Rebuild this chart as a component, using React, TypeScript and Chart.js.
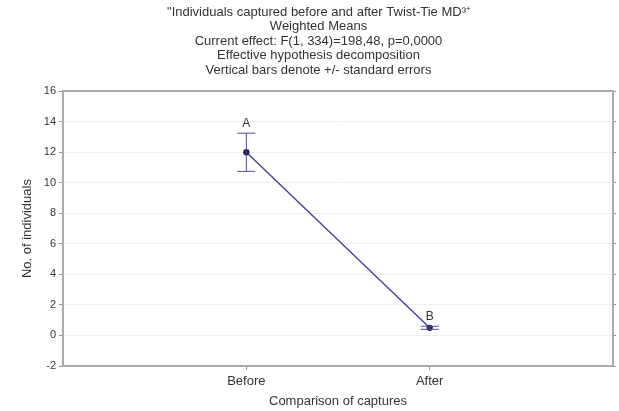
import React, { useEffect, useRef } from 'react';
import { Chart, registerables } from 'chart.js';

Chart.register(...registerables);

const titleLines = [
  '"Individuals captured before and after Twist-Tie MD³⁺',
  'Weighted Means',
  'Current effect: F(1, 334)=198,48, p=0,0000',
  'Effective hypothesis decomposition',
  'Vertical bars denote +/- standard errors',
];
const categories = ['Before', 'After'];
const means = [12.0, 0.5];
const stdErrors = [1.25, 0.1];
const groupLetters = ['A', 'B'];
const yMin = -2;
const yMax = 16;
const yStep = 2;
const xAxisTitle = 'Comparison of captures';
const yAxisTitle = 'No. of individuals';

const FONT = "'Liberation Sans', Arial, sans-serif";
const TEXT = '#333333';
const FRAME = '#ababab';

const errorBarPlugin = {
  id: 'errorBars',
  afterDatasetsDraw(chart: any) {
    const { ctx, scales } = chart;
    const x = scales.x;
    const y = scales.y;
    ctx.save();
    means.forEach((m, i) => {
      const px = x.getPixelForValue(i + 1);
      const top = y.getPixelForValue(m + stdErrors[i]);
      const bot = y.getPixelForValue(m - stdErrors[i]);
      ctx.strokeStyle = '#4b4b95';
      ctx.lineWidth = 1;
      ctx.beginPath();
      ctx.moveTo(px, top);
      ctx.lineTo(px, bot);
      ctx.moveTo(px - 9, top);
      ctx.lineTo(px + 9, top);
      ctx.moveTo(px - 9, bot);
      ctx.lineTo(px + 9, bot);
      ctx.stroke();
      ctx.fillStyle = TEXT;
      ctx.font = `12px ${FONT}`;
      ctx.textAlign = 'center';
      ctx.textBaseline = 'alphabetic';
      ctx.fillText(groupLetters[i], px, top - 6);
    });
    ctx.restore();
  },
};

export default function App() {
  const ref = useRef<HTMLCanvasElement | null>(null);

  useEffect(() => {
    if (!ref.current) return;
    const chart = new Chart(ref.current, {
      type: 'line',
      data: {
        datasets: [
          {
            data: means.map((m, i) => ({ x: i + 1, y: m })),
            borderColor: '#3b3ba3',
            borderWidth: 1.3,
            pointRadius: 2.5,
            pointBackgroundColor: '#1c1c5c',
            pointBorderColor: '#1c1c5c',
            fill: false,
            tension: 0,
          },
        ],
      },
      options: {
        responsive: false,
        animation: false,
        layout: { padding: { left: 18, top: 0, right: 0, bottom: 0 } },
        plugins: {
          legend: { display: false },
          tooltip: { enabled: false },
          title: {
            display: true,
            text: titleLines,
            color: TEXT,
            font: { family: FONT, size: 13, weight: 'normal', lineHeight: 1.11 },
            padding: { top: 5, bottom: 14 },
          },
        },
        scales: {
          x: {
            type: 'linear',
            position: 'bottom',
            min: 0,
            max: 3,
            afterBuildTicks: (axis: any) => {
              axis.ticks = categories.map((_, i) => ({ value: i + 1 }));
            },
            afterFit: (axis: any) => {
              axis.height = 45;
            },
            ticks: {
              callback: (v: any) => categories[Number(v) - 1] ?? '',
              color: TEXT,
              font: { family: FONT, size: 13 },
              padding: 4,
              maxRotation: 0,
            },
            grid: { drawOnChartArea: false, tickLength: 4, tickColor: '#999999' },
            border: { color: FRAME, width: 2 },
            title: {
              display: true,
              text: xAxisTitle,
              color: TEXT,
              font: { family: FONT, size: 13 },
              padding: { top: 0, bottom: 2 },
            },
          },
          xTop: {
            type: 'linear',
            position: 'top',
            min: 0,
            max: 3,
            afterFit: (axis: any) => {
              axis.height = 0;
            },
            ticks: { display: false },
            grid: { drawOnChartArea: false, drawTicks: false },
            border: { color: FRAME, width: 2 },
          },
          y: {
            type: 'linear',
            position: 'left',
            min: yMin,
            max: yMax,
            afterFit: (axis: any) => {
              axis.width = 45;
            },
            ticks: {
              stepSize: yStep,
              color: TEXT,
              font: { family: FONT, size: 11 },
              padding: 3,
            },
            grid: { color: '#eeeeee', tickLength: 4, tickColor: '#999999' },
            border: { color: FRAME, width: 2 },
            title: {
              display: true,
              text: yAxisTitle,
              color: TEXT,
              font: { family: FONT, size: 13 },
              padding: { top: 2, bottom: 0 },
            },
          },
          yRight: {
            type: 'linear',
            position: 'right',
            min: yMin,
            max: yMax,
            afterFit: (axis: any) => {
              axis.width = 6;
            },
            ticks: { stepSize: yStep, display: false },
            grid: { drawOnChartArea: false, tickLength: 3, tickColor: '#999999' },
            border: { color: FRAME, width: 2 },
          },
        },
      } as any,
      plugins: [errorBarPlugin],
    });
    return () => chart.destroy();
  }, []);

  return (
    <div style={{ position: 'absolute', left: 0, top: 0, width: 619, height: 411, background: '#ffffff' }}>
      <canvas ref={ref} width={619} height={411} />
    </div>
  );
}
